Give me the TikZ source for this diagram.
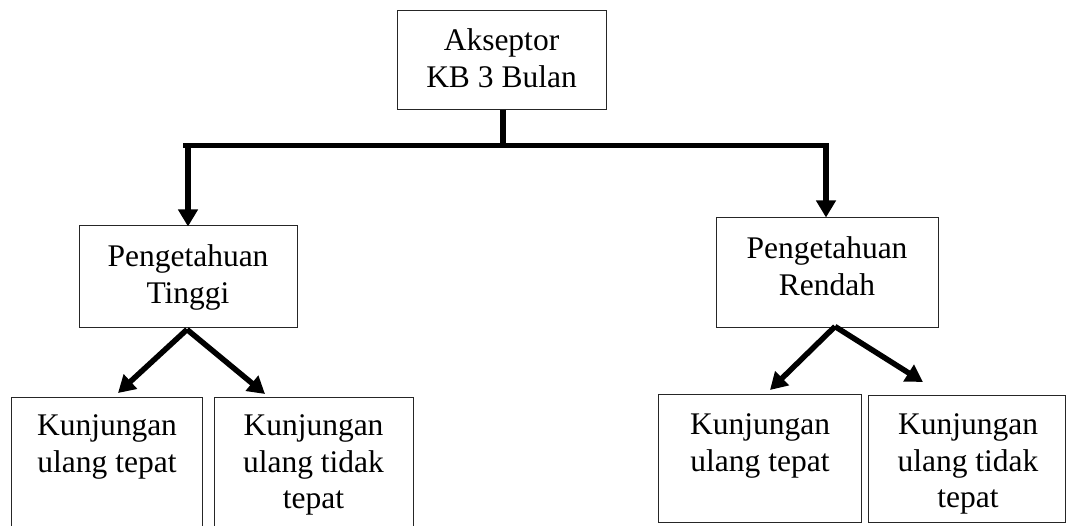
\documentclass[tikz,border=0pt]{standalone}
\usepackage{fontspec}
\setmainfont{Liberation Serif}
\usetikzlibrary{arrows.meta}
\begin{document}
\begin{tikzpicture}[x=1pt,y=-1pt,
  box/.style={draw=black!85, line width=1pt, rectangle, inner sep=0pt},
  txt/.style={anchor=north, inner sep=0pt, align=center, font=\fontsize{31.5}{36.5}\selectfont},
  conn/.style={line width=5.5pt, line join=miter},
  arr/.style={line width=5.5pt, -{Triangle[length=17pt,width=19pt]}}]
\useasboundingbox (0,0) rectangle (1066,526);
% boxes
\node[box, minimum width=209pt, minimum height=99pt] (top) at (501.5,60.5) {};
\node[txt] at (501.5,28.5) {Akseptor\\KB 3 Bulan};
\node[box, minimum width=218pt, minimum height=102pt] (pt) at (188,277) {};
\node[txt] at (188,244.5) {Pengetahuan\\Tinggi};
\node[box, minimum width=222pt, minimum height=110pt] (pr) at (827,273) {};
\node[txt] at (827,236.5) {Pengetahuan\\Rendah};
\node[box, minimum width=191pt, minimum height=135pt] (k1) at (106.5,465.5) {};
\node[txt] at (107,414.5) {Kunjungan\\ulang tepat};
\node[box, minimum width=199pt, minimum height=135pt] (k2) at (313.5,465.5) {};
\node[txt] at (313.5,414.5) {Kunjungan\\ulang tidak\\tepat};
\node[box, minimum width=203pt, minimum height=127pt] (k3) at (759.5,458.5) {};
\node[txt] at (760,413.5) {Kunjungan\\ulang tepat};
\node[box, minimum width=197pt, minimum height=126pt] (k4) at (966.5,459) {};
\node[txt] at (968,413.5) {Kunjungan\\ulang tidak\\tepat};
% connectors
\coordinate (hl) at (183,145.5);
\coordinate (hr) at (829,145.5);
\coordinate (stem) at (503,110);
\draw[conn] (stem) -- (stem |- hl);
\draw[conn] (hl) -- (hr);
\draw[arr] ([yshift=-2.75pt]pt.north |- hl) -- ([yshift=-1pt]pt.north);
\draw[arr] ([xshift=-1pt,yshift=-2.75pt]pr.north |- hl) -- ([xshift=-1pt]pr.north);
\coordinate (t1) at (118,393);
\coordinate (t2) at (265,394);
\coordinate (t3) at (770,390);
\coordinate (t4) at (923,382);
\draw[arr] ([xshift=-1pt,yshift=-1pt]pt.south) -- (t1);
\draw[arr] ([xshift=-1pt,yshift=-1pt]pt.south) -- (t2);
\draw[arr] ([xshift=8pt,yshift=2pt]pr.south) -- (t3);
\draw[arr] ([xshift=8pt,yshift=2pt]pr.south) -- (t4);
\end{tikzpicture}
\end{document}
